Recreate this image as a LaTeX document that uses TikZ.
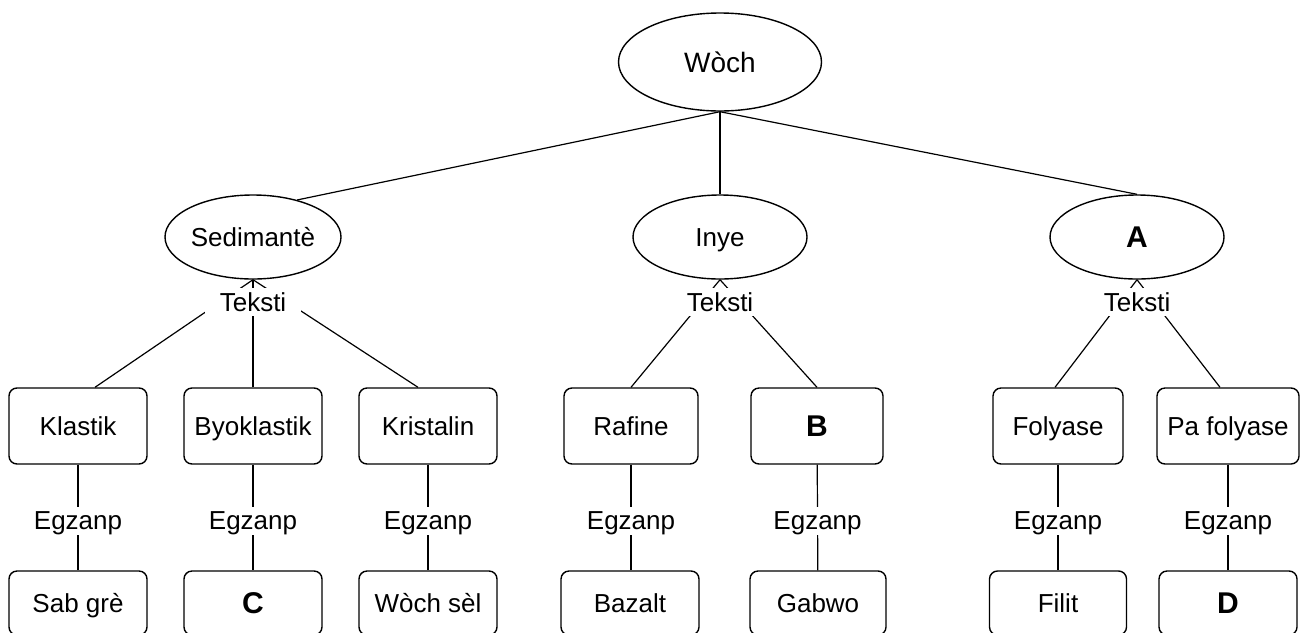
\documentclass[tikz,border=0pt]{standalone}
\usepackage{fontspec}
\setmainfont{Liberation Sans}
\usepackage{tikz}
\usetikzlibrary{shapes.geometric}
\tikzset{
  box/.style    = {draw, line width=0.7pt, rounded corners=4pt, align=center,
                   font=\fontsize{13}{15}\selectfont, text height=9.3pt, text depth=0pt,
                   inner sep=2pt, minimum height=38pt},
  oval/.style   = {draw, ellipse, line width=0.7pt, inner sep=0pt, minimum height=42pt,
                   font=\fontsize{13}{15}\selectfont, text height=9.3pt, text depth=0pt},
  letter/.style = {font=\fontsize{15}{18}\selectfont\bfseries, text height=10.8pt},
  lbl/.style    = {fill=white, inner sep=0pt, minimum height=14pt,
                   font=\fontsize{13}{15}\selectfont, text height=9.3pt, text depth=0pt},
  fl/.style     = {draw, line width=0.6pt}
}

\begin{document}
\begin{tikzpicture}[x=0.5pt, y=-0.5pt]
  \useasboundingbox (0,0) rectangle (1304,632);
  \clip (0,0) rectangle (1304,632);

  % top and the three families
  \node[oval, minimum width=101.5pt, minimum height=49pt,
        font=\fontsize{14}{16}\selectfont, text height=10pt] (woch) at (720,62) {Wòch};
  \node[oval, minimum width=88pt] (sed) at (253,237) {Sedimantè};
  \node[oval, minimum width=87pt] (inye) at (720,237) {Inye};
  \node[oval, letter, minimum width=87pt] (a) at (1137,237) {A};

  \draw[fl] (woch.south) -- (sed.40);
  \draw[fl] (woch.south) -- (inye.north);
  \draw[fl] (woch.south) -- (a.north);

  % textures
  \node[box, minimum width=69pt] (klastik) at (78,426) {Klastik};
  \node[box, minimum width=69pt] (byo) at (253,426) {Byoklastik};
  \node[box, minimum width=69pt] (kristalin) at (428,426) {Kristalin};
  \node[box, minimum width=67pt] (rafine) at (631,426) {Rafine};
  \node[box, letter, minimum width=66pt] (b) at (817,426) {B};
  \node[box, minimum width=65pt] (folyase) at (1058,426) {Folyase};
  \node[box, minimum width=71pt] (pafolyase) at (1228,426) {Pa folyase};

  \draw[fl] ([xshift=8.5pt]klastik.north) -- (sed.south);
  \draw[fl] (byo.north) -- (sed.south);
  \draw[fl] ([xshift=-5pt]kristalin.north) -- (sed.south);
  \draw[fl] (rafine.north) -- (inye.south);
  \draw[fl] (b.north) -- (inye.south);
  \draw[fl] ([xshift=-1.5pt]folyase.north) -- (a.south);
  \draw[fl] ([xshift=-4pt]pafolyase.north) -- (a.south);

  \node[lbl, minimum width=48pt] (t1) at (253,302) {Teksti};
  \node[lbl, minimum width=48pt] (t2) at (720,302) {Teksti};
  \node[lbl, minimum width=48pt] (t3) at (1137,302) {Teksti};

  % examples
  \node[box, minimum width=69pt, minimum height=32pt] (sabgre) at (78,603) {Sab grè};
  \node[box, letter, minimum width=69pt, minimum height=32pt] (c) at (253,603) {C};
  \node[box, minimum width=69pt, minimum height=32pt] (wochsel) at (428,603) {Wòch sèl};
  \node[box, minimum width=69pt, minimum height=32pt] (bazalt) at (630,603) {Bazalt};
  \node[box, minimum width=68pt, minimum height=32pt] (gabwo) at (818,603) {Gabwo};
  \node[box, minimum width=68.5pt, minimum height=32pt] (filit) at (1058,603) {Filit};
  \node[box, letter, minimum width=69pt, minimum height=32pt] (d) at (1228,603) {D};

  \draw[fl] (klastik) -- node[lbl, pos=0.53] (e1) {Egzanp} (sabgre);
  \draw[fl] (byo) -- node[lbl, pos=0.53] (e2) {Egzanp} (c);
  \draw[fl] (kristalin) -- node[lbl, pos=0.53] (e3) {Egzanp} (wochsel);
  \draw[fl] (rafine.south) -- node[lbl, pos=0.53] (e4) {Egzanp} (rafine.south |- bazalt.north);
  \draw[fl] (b) -- node[lbl, pos=0.53] (e5) {Egzanp} (gabwo);
  \draw[fl] (folyase) -- node[lbl, pos=0.53] (e6) {Egzanp} (filit);
  \draw[fl] (pafolyase) -- node[lbl, pos=0.53] (e7) {Egzanp} (d);
\end{tikzpicture}
\end{document}
